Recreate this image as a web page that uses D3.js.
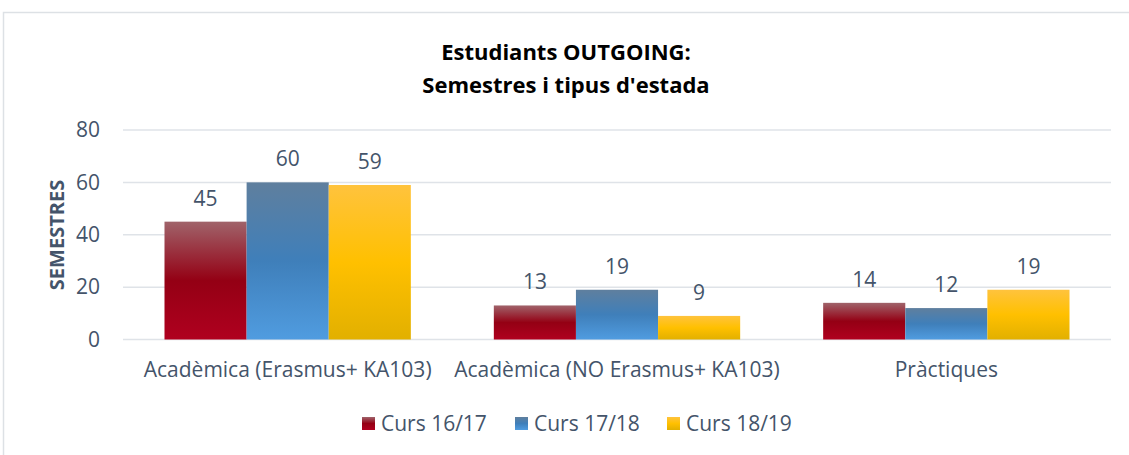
<!DOCTYPE html>
<html>
<head>
<meta charset="utf-8">
<script src="https://cdn.jsdelivr.net/npm/d3@7"></script>
<style>
  body { margin: 0; background: #fff; }
  svg { font-family: "Open Sans", "Noto Sans", sans-serif; }
</style>
</head>
<body>
<div id="chart"></div>
<script>
// Chart data
var categories = ["Acadèmica (Erasmus+ KA103)", "Acadèmica (NO Erasmus+ KA103)", "Pràctiques"];
var seriesNames = ["Curs 16/17", "Curs 17/18", "Curs 18/19"];
var curs1617 = [45, 13, 14];
var curs1718 = [60, 19, 12];
var curs1819 = [59, 9, 19];
var yTicks = [0, 20, 40, 60, 80];

var seriesValues = [curs1617, curs1718, curs1819];

var width = 1129, height = 455;
var margin = { top: 130, right: 18, bottom: 116, left: 123 };

var svg = d3.select("#chart").append("svg")
	.attr("width", width)
	.attr("height", height);

// gradients for the bars
var defs = svg.append("defs");
var gradStops = [
	[["0%", "#a0636a"], ["50%", "#940014"], ["100%", "#b0001f"]],
	[["0%", "#5f7f9e"], ["50%", "#3f7fba"], ["100%", "#509ce0"]],
	[["0%", "#ffc33d"], ["50%", "#ffc000"], ["100%", "#e2b000"]]
];
gradStops.forEach(function(stops, i) {
	var g = defs.append("linearGradient")
		.attr("id", "grad" + i)
		.attr("x1", 0).attr("y1", 0).attr("x2", 0).attr("y2", 1);
	stops.forEach(function(s) {
		g.append("stop").attr("offset", s[0]).attr("stop-color", s[1]);
	});
});

// outer frame
svg.append("path")
	.attr("d", "M3.5," + height + "V12.5H" + width)
	.attr("fill", "none")
	.attr("stroke", "#dde1e5")
	.attr("stroke-width", 1.5);

var plotW = width - margin.left - margin.right,
	plotH = height - margin.top - margin.bottom;

var g = svg.append("g")
	.attr("transform", "translate(" + margin.left + "," + margin.top + ")");

var x0 = d3.scaleBand().domain(categories).range([0, plotW]).paddingInner(0.252).paddingOuter(0.126);
var x1 = d3.scaleBand().domain(seriesNames).range([0, x0.bandwidth()]);
var y = d3.scaleLinear().domain([0, 80]).range([plotH + 0.5, 0]);

// gridlines
g.selectAll(".grid").data(yTicks).enter().append("line")
	.attr("x1", 0).attr("x2", plotW)
	.attr("y1", function(d) { return y(d); })
	.attr("y2", function(d) { return y(d); })
	.attr("stroke", "#dfe3e8")
	.attr("stroke-width", 1.5);

// y axis labels
g.selectAll(".ytick").data(yTicks).enter().append("text")
	.attr("x", -23)
	.attr("y", function(d) { return y(d); })
	.attr("dy", "0.35em")
	.attr("text-anchor", "end")
	.attr("fill", "#44546a")
	.style("font-size", "21px")
	.text(function(d) { return d; });

// bars
var groups = g.selectAll(".cat").data(categories).enter().append("g")
	.attr("transform", function(d) { return "translate(" + x0(d) + ",0)"; });

groups.each(function(cat, ci) {
	var grp = d3.select(this);
	seriesNames.forEach(function(s, si) {
		var v = seriesValues[si][ci];
		grp.append("rect")
			.attr("x", x1(s))
			.attr("width", x1.bandwidth())
			.attr("y", y(v))
			.attr("height", y(0) - y(v))
			.attr("fill", "url(#grad" + si + ")");
		grp.append("text")
			.attr("x", x1(s) + x1.bandwidth() / 2)
			.attr("y", y(v) - 16)
			.attr("text-anchor", "middle")
			.attr("fill", "#44546a")
			.style("font-size", "21px")
			.text(v);
	});
});

// x axis labels
g.selectAll(".xlab").data(categories).enter().append("text")
	.attr("x", function(d) { return x0(d) + x0.bandwidth() / 2; })
	.attr("y", plotH + 38)
	.attr("text-anchor", "middle")
	.attr("fill", "#44546a")
	.style("font-size", "21px")
	.text(function(d) { return d; });

// y axis title
svg.append("text")
	.attr("transform", "translate(64,235) rotate(-90)")
	.attr("text-anchor", "middle")
	.attr("fill", "#44546a")
	.style("font-size", "20px")
	.style("font-weight", "bold")
	.text("SEMESTRES");

// title
var title = svg.append("text")
	.attr("text-anchor", "middle")
	.attr("fill", "#000")
	.style("font-size", "22px")
	.style("font-weight", "bold");
title.append("tspan").attr("x", 566).attr("y", 60).text("Estudiants OUTGOING:");
title.append("tspan").attr("x", 566).attr("y", 93).text("Semestres i tipus d'estada");

// legend
var legendX = [362, 515, 667];
var legend = svg.selectAll(".legend").data(seriesNames).enter().append("g")
	.attr("transform", function(d, i) { return "translate(" + legendX[i] + ",417)"; });
legend.append("rect")
	.attr("width", 13).attr("height", 13)
	.attr("fill", function(d, i) { return "url(#grad" + i + ")"; });
legend.append("text")
	.attr("x", 19).attr("y", 7).attr("dy", "0.35em")
	.attr("fill", "#44546a")
	.style("font-size", "21px")
	.text(function(d) { return d; });
</script>
</body>
</html>
